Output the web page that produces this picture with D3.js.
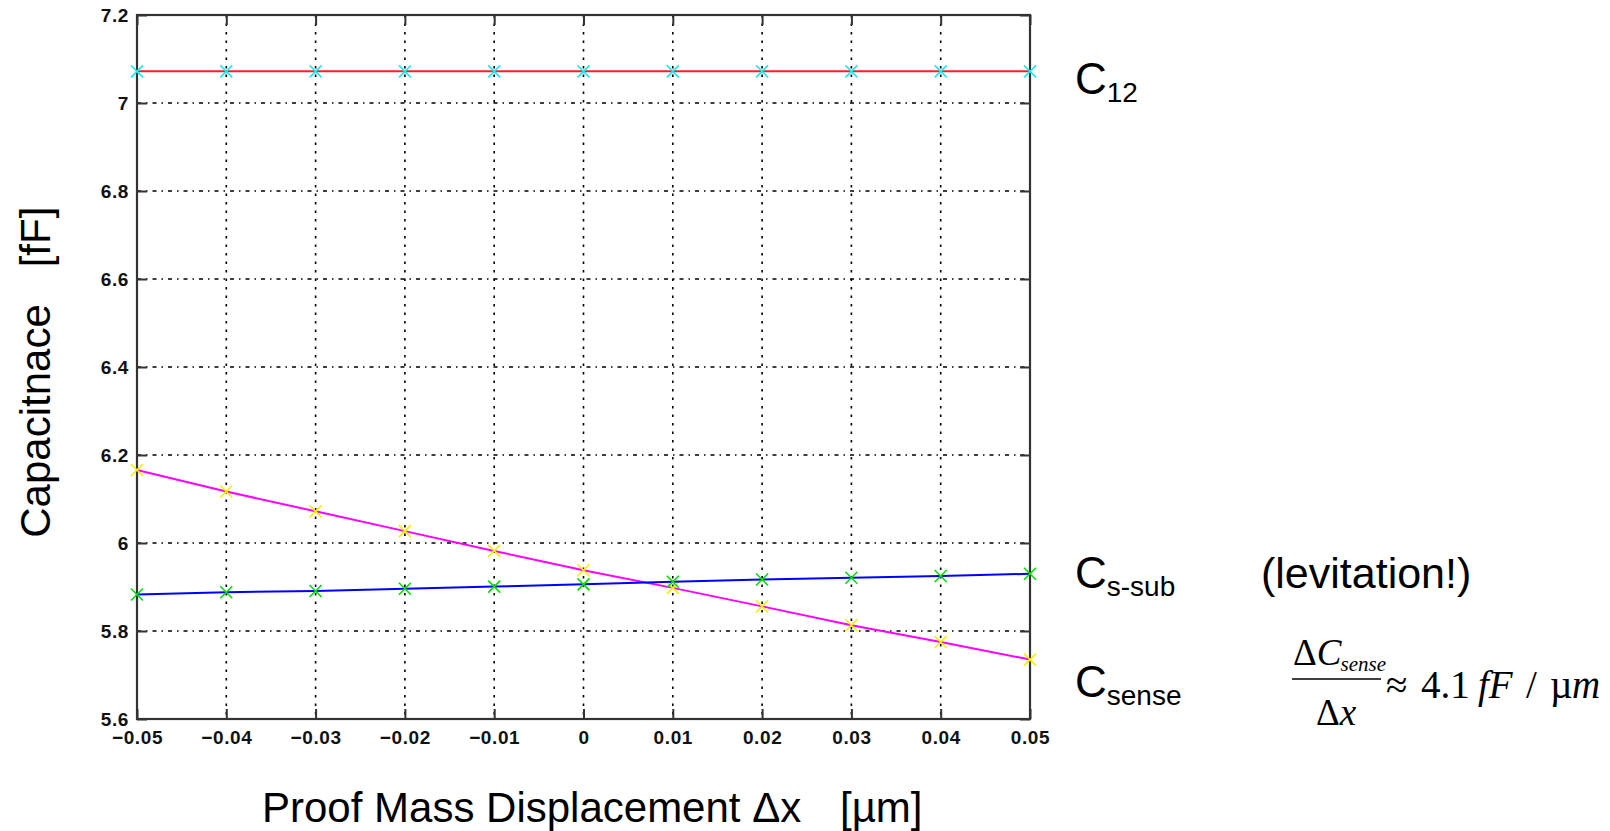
<!DOCTYPE html>
<html>
<head>
<meta charset="utf-8">
<script src="https://cdn.jsdelivr.net/npm/d3@7"></script>
<style>
  html, body { margin: 0; padding: 0; background: #fff; }
  svg { display: block; }
  .big { font-family: "Liberation Sans", Arial, sans-serif; fill: #000; }
  .serif { font-family: "Liberation Serif", "Times New Roman", serif; fill: #000; }
</style>
</head>
<body>
<svg id="chart" width="1610" height="831"></svg>
<script>
// displacement of the proof mass (um)
const displacement = [-0.05, -0.04, -0.03, -0.02, -0.01, 0, 0.01, 0.02, 0.03, 0.04, 0.05];
// capacitances in fF
const c12 = [7.072, 7.072, 7.072, 7.072, 7.072, 7.072, 7.072, 7.072, 7.072, 7.072, 7.072];
const cSsub = [5.883, 5.888, 5.891, 5.896, 5.901, 5.906, 5.912, 5.917, 5.921, 5.925, 5.930];
const cSense = [6.166, 6.117, 6.072, 6.027, 5.982, 5.938, 5.898, 5.856, 5.813, 5.775, 5.735];

const xTicks = [-0.05, -0.04, -0.03, -0.02, -0.01, 0, 0.01, 0.02, 0.03, 0.04, 0.05];
const xTickLabels = ['\u22120.05', '\u22120.04', '\u22120.03', '\u22120.02', '\u22120.01', '0', '0.01', '0.02', '0.03', '0.04', '0.05'];
const yTicks = [5.6, 5.8, 6, 6.2, 6.4, 6.6, 6.8, 7, 7.2];
const yTickLabels = ['5.6', '5.8', '6', '6.2', '6.4', '6.6', '6.8', '7', '7.2'];

const series = [
    { name: 'C12', values: c12, line: '#ff2020', marker: '#20e8f0' },
    { name: 'Csense', values: cSense, line: '#ff00ff', marker: '#f5f000' },
    { name: 'Cssub', values: cSsub, line: '#0000ff', marker: '#00e000' }
];

const plot = { left: 137, right: 1030, top: 15, bottom: 719 };

const svg = d3.select('#chart');

const x = d3.scaleLinear().domain([-0.05, 0.05]).range([plot.left, plot.right]);
const y = d3.scaleLinear().domain([5.6, 7.2]).range([plot.bottom, plot.top]);

// grid
const grid = svg.append('g').attr('class', 'grid');
grid.selectAll('line.vgrid')
    .data(xTicks.slice(1, -1))
    .enter().append('line')
    .attr('x1', d => x(d)).attr('x2', d => x(d))
    .attr('y1', plot.top).attr('y2', plot.bottom)
    .attr('stroke', '#000').attr('stroke-width', 1.6)
    .attr('stroke-dasharray', '2.5,6');
grid.selectAll('line.hgrid')
    .data(yTicks.slice(1, -1))
    .enter().append('line')
    .attr('x1', plot.left).attr('x2', plot.right)
    .attr('y1', d => y(d)).attr('y2', d => y(d))
    .attr('stroke', '#000').attr('stroke-width', 1.6)
    .attr('stroke-dasharray', '4,5,1.5,5');

// axes (box with inward ticks)
const tickLen = 10;
const axisBottom = d3.axisBottom(x).tickValues(xTicks).tickSize(-tickLen).tickFormat((d, i) => xTickLabels[i]).tickPadding(12);
const axisTop = d3.axisTop(x).tickValues(xTicks).tickSize(-tickLen).tickFormat('');
const axisLeft = d3.axisLeft(y).tickValues(yTicks).tickSize(-tickLen).tickFormat((d, i) => yTickLabels[i]).tickPadding(8);
const axisRight = d3.axisRight(y).tickValues(yTicks).tickSize(-tickLen).tickFormat('');

function styleAxis(g) {
    g.attr('font-family', '"Liberation Sans", Arial, sans-serif').attr('font-size', 19);
    g.selectAll('.tick line').attr('stroke', '#333').attr('stroke-width', 2);
    g.selectAll('.tick text')
        .attr('fill', '#111')
        .attr('font-weight', 'bold')
        .attr('letter-spacing', 0.6);
}

svg.append('g').attr('transform', `translate(0,${plot.bottom})`).call(axisBottom).call(styleAxis);
svg.append('g').attr('transform', `translate(0,${plot.top})`).call(axisTop).call(styleAxis);
svg.append('g').attr('transform', `translate(${plot.left},0)`).call(axisLeft).call(styleAxis);
svg.append('g').attr('transform', `translate(${plot.right},0)`).call(axisRight).call(styleAxis);
svg.selectAll('.domain').remove();
svg.append('rect')
    .attr('x', plot.left).attr('y', plot.top)
    .attr('width', plot.right - plot.left).attr('height', plot.bottom - plot.top)
    .attr('fill', 'none').attr('stroke', '#333').attr('stroke-width', 2.2);

// lines and markers
const lineGen = d3.line().x((d, i) => x(displacement[i])).y(d => y(d));
const markerSize = 6;

series.forEach(function (s) {
    svg.append('path')
        .datum(s.values)
        .attr('d', lineGen)
        .attr('fill', 'none')
        .attr('stroke', s.line)
        .attr('stroke-width', 2);
    const m = svg.append('g').attr('class', 'markers-' + s.name);
    m.selectAll('path')
        .data(s.values)
        .enter().append('path')
        .attr('transform', (d, i) => `translate(${x(displacement[i])},${y(d)})`)
        .attr('d', `M${-markerSize},${-markerSize}L${markerSize},${markerSize}M${-markerSize},${markerSize}L${markerSize},${-markerSize}`)
        .attr('stroke', s.marker)
        .attr('stroke-width', 1.6)
        .attr('fill', 'none');
});

// axis titles
svg.append('text')
    .attr('class', 'big')
    .attr('x', 262).attr('y', 822)
    .attr('font-size', 42)
    .text('Proof Mass Displacement \u0394x');
svg.append('text')
    .attr('class', 'big')
    .attr('x', 840).attr('y', 822)
    .attr('font-size', 42)
    .text('[\u00b5m]');

svg.append('text')
    .attr('class', 'big')
    .attr('transform', 'translate(50,421) rotate(-90)')
    .attr('text-anchor', 'middle')
    .attr('font-size', 42)
    .text('Capacitnace');
svg.append('text')
    .attr('class', 'big')
    .attr('transform', 'translate(50,237) rotate(-90)')
    .attr('text-anchor', 'middle')
    .attr('font-size', 42)
    .text('[fF]');

// series labels on the right
function capLabel(xPos, yPos, sub) {
    const t = svg.append('text').attr('class', 'big').attr('x', xPos).attr('y', yPos).attr('font-size', 44);
    t.append('tspan').text('C');
    t.append('tspan').attr('font-size', 28).attr('dy', 8).text(sub);
}
capLabel(1075, 94, '12');
capLabel(1075, 588, 's-sub');
capLabel(1075, 697, 'sense');

svg.append('text')
    .attr('class', 'big')
    .attr('x', 1261).attr('y', 588)
    .attr('font-size', 43)
    .text('(levitation!)');

// slope formula
const fx = 1292, fBar = 679;
const num = svg.append('text').attr('class', 'serif').attr('x', fx + 1).attr('y', fBar - 14).attr('font-size', 37);
num.append('tspan').text('\u0394');
num.append('tspan').attr('font-style', 'italic').text('C');
num.append('tspan').attr('font-style', 'italic').attr('font-size', 21).attr('dy', 6).attr('dx', -1).text('sense');
svg.append('line')
    .attr('x1', fx).attr('x2', fx + 89)
    .attr('y1', fBar).attr('y2', fBar)
    .attr('stroke', '#000').attr('stroke-width', 1.6);
const den = svg.append('text').attr('class', 'serif').attr('x', fx + 44).attr('y', fBar + 46)
    .attr('text-anchor', 'middle').attr('font-size', 37);
den.append('tspan').text('\u0394');
den.append('tspan').attr('font-style', 'italic').text('x');

const rhsY = fBar + 19;
const rhs = svg.append('g').attr('class', 'serif').attr('font-size', 39);
rhs.append('text').attr('x', fx + 94).attr('y', rhsY).text('\u2248');
rhs.append('text').attr('x', fx + 129).attr('y', rhsY).text('4.1');
rhs.append('text').attr('x', fx + 186).attr('y', rhsY).attr('font-style', 'italic').text('fF');
rhs.append('text').attr('x', fx + 234).attr('y', rhsY).text('/');
rhs.append('text').attr('x', fx + 258).attr('y', rhsY).text('\u00b5');
rhs.append('text').attr('x', fx + 280).attr('y', rhsY).attr('font-style', 'italic').text('m');
</script>
</body>
</html>
